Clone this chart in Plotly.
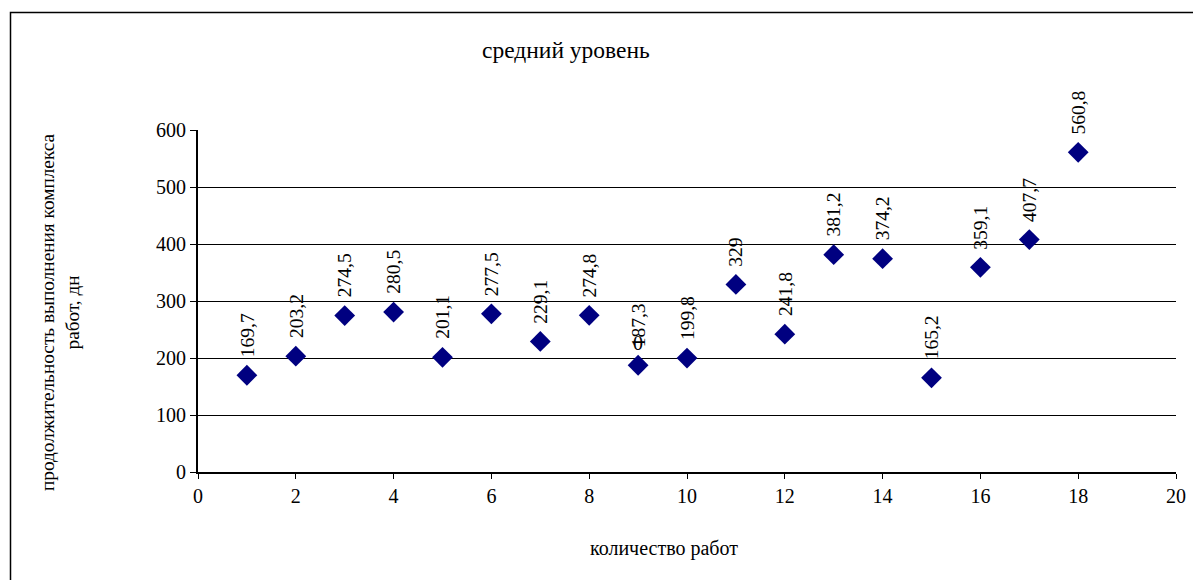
import plotly.graph_objects as go

x_vals = list(range(1, 19))
y_vals = [169.7, 203.2, 274.5, 280.5, 201.1, 277.5, 229.1, 274.8, 187.3,
          199.8, 329, 241.8, 381.2, 374.2, 165.2, 359.1, 407.7, 560.8]
labels = ["169,7", "203,2", "274,5", "280,5", "201,1", "277,5", "229,1", "274,8", "187,3",
          "199,8", "329", "241,8", "381,2", "374,2", "165,2", "359,1", "407,7", "560,8"]

title_text = "средний уровень"
x_title = "количество работ"
y_title = "продолжительность выполнения комплекса<br>работ, дн"

FONT = "Liberation Serif"

OFF = 8  # page body margin
L, R, T, B = 198 - OFF, 1176 - OFF, 130 - OFF, 472 - OFF
W, H = 1201, 580
pw, ph = R - L, B - T

def px(xp):
    return (xp - OFF - L) / pw

def py(yp):
    return (B - (yp - OFF)) / ph

fig = go.Figure()
fig.add_trace(go.Scatter(
    x=x_vals, y=y_vals, mode="markers",
    marker=dict(symbol="diamond", size=16, color="#000080",
                line=dict(width=0)),
    hoverinfo="x+y", showlegend=False,
))

annotations = []
for xv, yv, lab in zip(x_vals, y_vals, labels):
    annotations.append(dict(
        x=xv, y=yv, xref="x", yref="y", text=lab, textangle=-90,
        showarrow=False, xanchor="center", yanchor="bottom", yshift=16,
        font=dict(family=FONT, size=19.5, color="black"),
    ))
# stray "0" label near point 9
annotations.append(dict(
    x=9, y=226, xref="x", yref="y", text="0", showarrow=False,
    xanchor="center", yanchor="middle",
    font=dict(family=FONT, size=20, color="black"),
))
annotations.append(dict(
    x=px(566), y=py(50), xref="paper", yref="paper", text=title_text,
    showarrow=False, xanchor="center", yanchor="middle",
    font=dict(family=FONT, size=23.5, color="black"),
))
annotations.append(dict(
    x=px(664), y=py(548), xref="paper", yref="paper", text=x_title,
    showarrow=False, xanchor="center", yanchor="middle",
    font=dict(family=FONT, size=20, color="black"),
))
annotations.append(dict(
    x=px(60), y=py(312), xref="paper", yref="paper", text=y_title,
    textangle=-90, showarrow=False, xanchor="center", yanchor="middle",
    font=dict(family=FONT, size=19.3, color="black"),
))

fig.update_layout(
    width=W, height=H,
    margin=dict(l=L, r=W - R, t=T, b=H - B, autoexpand=False),
    paper_bgcolor="white", plot_bgcolor="white",
    font=dict(family=FONT, size=19, color="black"),
    annotations=annotations,
    shapes=[dict(type="rect", xref="paper", yref="paper",
                 x0=px(10.5), x1=px(1215), y0=py(600), y1=py(12.5),
                 line=dict(color="black", width=1.5), layer="below")],
)
fig.update_xaxes(
    range=[0, 20], tickmode="array", tickvals=list(range(0, 21, 2)),
    showgrid=False, zeroline=False, showline=True, linecolor="black", linewidth=2,
    ticks="outside", ticklen=5, tickcolor="black", tickwidth=1,
    tickfont=dict(family=FONT, size=20, color="black"),
)
fig.update_yaxes(
    range=[0, 600], tickmode="array", tickvals=list(range(0, 601, 100)),
    showgrid=True, gridcolor="black", gridwidth=1, zeroline=False,
    showline=True, linecolor="black", linewidth=2,
    ticks="outside", ticklen=6, tickcolor="black", tickwidth=1,
    tickfont=dict(family=FONT, size=20, color="black"),
)

fig.write_html("out.html")
